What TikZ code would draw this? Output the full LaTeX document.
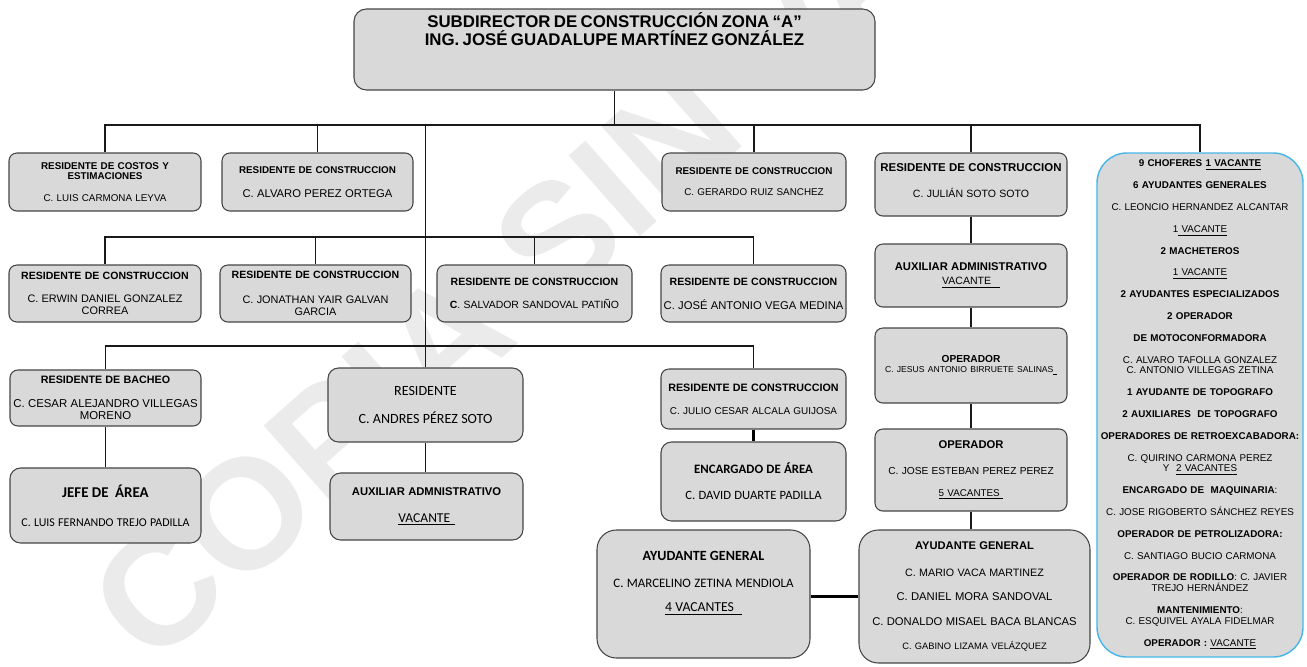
\documentclass[tikz,border=0pt]{standalone}
\usepackage{fontspec}
\setmainfont{Liberation Sans}
\newfontfamily\calibri{Carlito}
\newlength\px
\setlength\px{0.02cm}
\newcommand\fsz[1]{\fontsize{#1}{0pt}\selectfont}
\newcommand\hd[2]{{\bfseries\fsz{#1}#2}}
\newcommand\nm[2]{{\fsz{#1}#2}}
\definecolor{boxgray}{HTML}{D9D9D9}
\definecolor{edgegray}{HTML}{454545}
\definecolor{stampgray}{HTML}{EBEBEB}
\definecolor{crewblue}{HTML}{45B6E8}
\tikzset{
  card/.style={draw=edgegray, fill=boxgray, line width=0.6pt, rounded corners=4.5pt,
    inner sep=0pt, align=center, font=\fsz{5.6},
    execute at begin node={\baselineskip=0pt\lineskiplimit=-100pt\relax}},
  boxsize/.style 2 args={minimum width=#1\px, text width=#1\px, minimum height=#2\px},
  link/.style={draw=black!90, line width=0.6pt},
  heavylink/.style={draw=black, line width=1.7pt},
  stamp/.style={text=stampgray, inner sep=0pt, rotate=41.5,
    font=\bfseries\fontsize{89}{89}\selectfont},
}
\begin{document}
\begin{tikzpicture}[x=0.02cm, y=-0.02cm]
\useasboundingbox (0,0) rectangle (1307,666);
\node[stamp] (copia) at (632,172) {COPIA SIN VALOR};

% top
\node[card, boxsize={521}{81}, rounded corners=7pt] (sub) at (614.5,49.5)
  {\hd{9.6}{SUBDIRECTOR DE CONSTRUCCIÓN ZONA “A”}\\[10.2pt]
   \hd{9.6}{ING. JOSÉ GUADALUPE MARTÍNEZ GONZÁLEZ}\\[23pt]\mbox{}};

% first row
\node[card, boxsize={192}{58}] (costos) at (105,182)
  {\hd{5.6}{RESIDENTE DE COSTOS Y}\\[5.7pt]\hd{5.6}{ESTIMACIONES}\\[12.5pt]
   \nm{5.6}{C. LUIS CARMONA LEYVA}};
\node[card, boxsize={191}{58}] (alvaro) at (317.5,182)
  {\hd{5.6}{RESIDENTE DE CONSTRUCCION}\\[13.6pt]\nm{6.4}{C. ALVARO PEREZ ORTEGA}};
\node[card, boxsize={184}{58}] (gerardo) at (754,182)
  {\hd{5.6}{RESIDENTE DE CONSTRUCCION}\\[11.9pt]\nm{5.6}{C. GERARDO RUIZ SANCHEZ}};
\node[card, boxsize={192}{63}] (julian) at (971,184.5)
  {\hd{6.5}{RESIDENTE DE CONSTRUCCION}\\[14.7pt]\nm{6}{C. JULIÁN SOTO SOTO}\\[5pt]\mbox{}};
\node[card, boxsize={206}{504}, draw=crewblue, line width=0.8pt, rounded corners=17pt]
  (crew) at (1200,405)
  {\textbf{9 CHOFERES \underline{1 VACANTE}}\\[12.4pt]
   \textbf{6 AYUDANTES GENERALES}\\[12.4pt]
   C. LEONCIO HERNANDEZ ALCANTAR\\[12.4pt]
   1\underline{ VACANTE}\\[12.4pt]
   \textbf{2 MACHETEROS}\\[12.4pt]
   \underline{1 VACANTE}\\[12.4pt]
   \textbf{2 AYUDANTES ESPECIALIZADOS}\\[12.4pt]
   \textbf{2 OPERADOR}\\[12.4pt]
   \textbf{DE MOTOCONFORMADORA}\\[12.4pt]
   C. ALVARO TAFOLLA GONZALEZ\\[6.2pt]
   C. ANTONIO VILLEGAS ZETINA\\[12.4pt]
   \textbf{1 AYUDANTE DE TOPOGRAFO}\\[12.4pt]
   \textbf{2 AUXILIARES\ \ DE TOPOGRAFO}\\[12.4pt]
   \textbf{OPERADORES DE RETROEXCABADORA:}\\[12.4pt]
   C. QUIRINO CARMONA PEREZ\\[6.2pt]
   Y\ \ \underline{2 VACANTES}\\[12.4pt]
   \textbf{ENCARGADO DE\ \ MAQUINARIA}:\\[12.4pt]
   C. JOSE RIGOBERTO SÁNCHEZ REYES\\[12.4pt]
   \textbf{OPERADOR DE PETROLIZADORA:}\\[12.4pt]
   C. SANTIAGO BUCIO CARMONA\\[12.4pt]
   \textbf{OPERADOR DE RODILLO}: C. JAVIER\\[6.2pt]
   TREJO HERNÁNDEZ\\[12.4pt]
   \textbf{MANTENIMIENTO}:\\[6.2pt]
   C. ESQUIVEL AYALA FIDELMAR\\[12.4pt]
   \textbf{OPERADOR :} \underline{VACANTE}};

% second row
\node[card, boxsize={192}{57}] (erwin) at (105,293.5)
  {\hd{6}{RESIDENTE DE CONSTRUCCION}\\[13pt]\nm{6.2}{C. ERWIN DANIEL GONZALEZ}\\[6.8pt]
   \nm{6.2}{CORREA}};
\node[card, boxsize={191}{57}] (jonathan) at (315.5,293.5)
  {\hd{6}{RESIDENTE DE CONSTRUCCION}\\[14.2pt]\nm{6.2}{C. JONATHAN YAIR GALVAN}\\[6.8pt]
   \nm{6.2}{GARCIA}};
\node[card, boxsize={195}{57}] (salvador) at (534.5,293.5)
  {\hd{6}{RESIDENTE DE CONSTRUCCION}\\[13pt]\nm{5.95}{\textbf{C}. SALVADOR SANDOVAL PATIÑO}};
\node[card, boxsize={185}{57}] (joseant) at (753.5,293.5)
  {\hd{6}{RESIDENTE DE CONSTRUCCION}\\[13.6pt]\nm{6.4}{C. JOSÉ ANTONIO VEGA MEDINA}};

% third row
\node[card, boxsize={191}{56}] (bacheo) at (105.5,398)
  {\hd{6.1}{RESIDENTE DE BACHEO}\\[13.6pt]\nm{6.5}{C. CESAR ALEJANDRO VILLEGAS}\\[6.8pt]
   \nm{6.5}{MORENO}};
\node[card, boxsize={191}{75}, rounded corners=6pt] (jefe) at (105.5,505.5)
  {{\calibri\bfseries\fsz{8.5}JEFE DE\ \ ÁREA}\\[16.4pt]
   {\calibri\fsz{6.8}C. LUIS FERNANDO TREJO PADILLA}};
\node[card, boxsize={195}{74}, rounded corners=6pt] (andres) at (425.5,405)
  {{\calibri\fsz{8}RESIDENTE}\\[16.4pt]{\calibri\fsz{8}C. ANDRES PÉREZ SOTO}};
\node[card, boxsize={193}{67}, rounded corners=6pt] (auxA) at (426.5,506.5)
  {\hd{6.4}{AUXILIAR ADMNISTRATIVO}\\[15.3pt]
   {\calibri\fsz{7.7}\underline{VACANTE\hspace{2.5pt}}}};
\node[card, boxsize={185}{60}] (julio) at (753.5,399)
  {\hd{6.1}{RESIDENTE DE CONSTRUCCION}\\[13pt]\nm{5.65}{C. JULIO CESAR ALCALA GUIJOSA}};
\node[card, boxsize={185}{79}, rounded corners=6pt] (encargado) at (753.5,481.5)
  {{\calibri\bfseries\fsz{7.3}ENCARGADO DE ÁREA}\\[14.7pt]
   {\calibri\fsz{7.2}C. DAVID DUARTE PADILLA}};

% right column
\node[card, boxsize={192}{63}] (aux2) at (971,275.5)
  {\hd{6.4}{AUXILIAR ADMINISTRATIVO}\\[7.9pt]\nm{6}{\underline{VACANTE\hspace{5pt}}}};
\node[card, boxsize={192}{75}] (jesus) at (971,365.5)
  {\hd{5.8}{OPERADOR}\\[5.7pt]\nm{4.9}{C. JESUS ANTONIO BIRRUETE SALINAS\underline{\hspace{2pt}}}};
\node[card, boxsize={192}{82}] (esteban) at (971,470)
  {\hd{6.4}{OPERADOR}\\[14.7pt]\nm{5.8}{C. JOSE ESTEBAN PEREZ PEREZ}\\[12.5pt]
   \nm{5.6}{\underline{5 VACANTES\hspace{2pt}}}};
\node[card, boxsize={231}{133}, rounded corners=11pt] (ayudR) at (974.5,596.5)
  {\hd{6.35}{AYUDANTE GENERAL}\\[15.3pt]\nm{6.1}{C. MARIO VACA MARTINEZ}\\[13.6pt]
   \nm{6.4}{C. DANIEL MORA SANDOVAL}\\[14.7pt]\nm{6.4}{C. DONALDO MISAEL BACA BLANCAS}\\[13.6pt]
   \nm{5.3}{C. GABINO LIZAMA VELÁZQUEZ}};
\node[card, boxsize={213}{128}, rounded corners=11pt] (ayudL) at (703.5,594)
  {{\calibri\bfseries\fsz{8}AYUDANTE GENERAL}\\[15.3pt]
   {\calibri\fsz{7.35}C. MARCELINO ZETINA MENDIOLA}\\[13.6pt]
   {\calibri\fsz{7.8}\underline{4 VACANTES\hspace{4.5pt}}}\\[14pt]\mbox{}};

% buses
\coordinate (hub1) at (sub.south |- 0,125);
\coordinate (hub2) at (andres.north |- 0,237);
\coordinate (hub3) at (andres.north |- 0,346);
\draw[link] (sub.south) -- (hub1);
\foreach \k in {costos,alvaro,andres,gerardo,julian,crew}
  \draw[link] (hub1) -| (\k.north);
\foreach \k in {erwin,jonathan,salvador,joseant}
  \draw[link] (hub2) -| (\k.north);
\foreach \k in {bacheo,julio}
  \draw[link] (hub3) -| (\k.north);

\draw[link] (bacheo.south) -- (jefe.north);
\draw[link] (andres.south) -- (andres.south |- auxA.north);
\draw[heavylink] (julio.south) -- (encargado.north);
\draw[link] (julian.south) -- (aux2.north);
\draw[link] (aux2.south) -- (jesus.north);
\draw[link] (jesus.south) -- (esteban.north);
\draw[link] (esteban.south) -- (esteban.south |- ayudR.north);
\draw[heavylink] (ayudL.east |- ayudR.west) -- (ayudR.west);
\end{tikzpicture}
\end{document}
